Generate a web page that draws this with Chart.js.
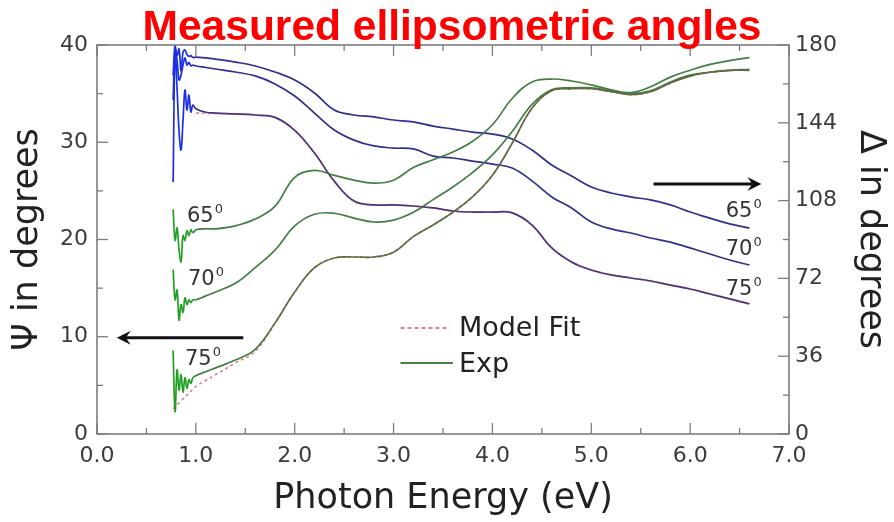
<!DOCTYPE html>
<html>
<head>
<meta charset="utf-8">
<script src="https://cdn.jsdelivr.net/npm/chart.js@4.4.0/dist/chart.umd.min.js"></script>
<style>
  html, body { margin: 0; padding: 0; background: #fff; }
  canvas { display: block; }
</style>
</head>
<body>
<canvas id="chartAngles" width="894" height="522"></canvas>
<script>
// ===== DATOS =====
const energy = [0.77, 0.79, 0.81, 0.83, 0.85, 0.87, 0.89, 0.91, 0.93, 0.95, 0.97,
    1.0, 1.1, 1.2, 1.4, 1.6, 1.8, 2.0, 2.2, 2.4, 2.6, 2.8, 3.0, 3.2, 3.4, 3.6, 3.8,
    4.0, 4.2, 4.4, 4.6, 4.8, 5.0, 5.2, 5.4, 5.6, 5.8, 6.0, 6.2, 6.4, 6.6];

// Psi (left axis), measured
const psi65 = [23.1, 19.9, 21.2, 18.9, 17.7, 20.4, 19.9, 20.9, 20.4, 21.0, 20.7,
    21.0, 21.1, 21.1, 21.4, 22.1, 23.4, 26.4, 27.1, 26.6, 26.1, 25.8, 26.1, 27.4, 28.2, 29.0, 30.1,
    31.8, 34.5, 36.2, 36.5, 36.3, 35.9, 35.4, 35.1, 35.7, 36.7, 37.4, 38.0, 38.4, 38.7];
const psi70 = [16.9, 13.8, 14.8, 11.7, 13.3, 12.5, 14.0, 13.3, 13.8, 13.5, 13.8,
    13.8, 14.2, 14.6, 15.5, 17.1, 18.9, 21.4, 22.6, 22.7, 22.2, 21.8, 22.0, 22.8, 24.1, 25.4, 26.9,
    28.7, 31.1, 33.9, 35.4, 35.6, 35.6, 35.3, 35.0, 35.3, 36.2, 36.9, 37.2, 37.4, 37.5];
const psi75 = [8.6, 2.3, 6.6, 4.5, 6.1, 4.3, 5.8, 4.7, 5.6, 5.2, 5.8,
    6.0, 6.4, 6.8, 7.6, 8.7, 11.4, 14.6, 17.1, 18.1, 18.2, 18.2, 18.7, 20.3, 21.5, 22.8, 24.4,
    26.6, 29.9, 33.5, 35.3, 35.5, 35.5, 35.2, 34.9, 35.2, 36.1, 36.8, 37.2, 37.4, 37.4];
const psi75Fit = [2.6, 2.8, 3.0, 3.2, 3.4, 3.6, 3.8, 4.0, 4.2, 4.4, 4.6,
    4.9, 5.5, 6.1, 7.3, 8.5, 11.4, 14.6, 17.1, 18.1, 18.2, 18.2, 18.7, 20.3, 21.5, 22.8, 24.4,
    26.6, 29.9, 33.5, 35.3, 35.5, 35.5, 35.2, 34.9, 35.2, 36.1, 36.8, 37.2, 37.4, 37.4];

// Delta (right axis), measured
const delta65 = [166.0, 180.0, 175.1, 178.2, 168.0, 176.6, 177.7, 175.6, 174.7, 175.1, 174.2,
    174.4, 174.0, 173.5, 172.1, 170.3, 167.5, 163.8, 157.8, 149.9, 147.6, 146.7, 145.3, 144.4, 142.5, 141.1, 139.7,
    138.8, 136.5, 131.4, 124.5, 119.4, 114.3, 111.5, 109.7, 108.3, 106.0, 102.7, 99.9, 97.2, 95.3];
const delta70 = [154.5, 177.7, 173.0, 163.8, 166.0, 170.7, 174.0, 170.7, 172.0, 170.3, 170.7,
    170.3, 169.6, 168.9, 167.5, 165.7, 162.0, 156.4, 148.5, 140.7, 136.0, 133.3, 132.3, 131.9, 128.6, 127.7, 126.3,
    124.9, 123.1, 117.1, 109.7, 104.6, 98.1, 94.9, 93.0, 90.7, 88.8, 86.1, 83.3, 80.5, 78.2];
const delta75 = [116.6, 177.7, 160.0, 140.0, 131.4, 145.0, 159.2, 149.9, 156.9, 149.0, 152.2,
    150.5, 148.9, 148.5, 148.1, 147.6, 146.5, 140.5, 130.0, 117.0, 107.8, 106.0, 106.0, 105.5, 104.6, 103.2, 102.7,
    102.7, 102.3, 96.7, 86.1, 79.6, 75.9, 73.6, 72.2, 70.8, 68.9, 67.1, 64.8, 62.5, 60.2];
// fit only from 1.0 eV on (hidden under the noisy start)
const delta75Fit = [null, null, null, null, null, null, null, null, null, null, null,
    148.5, 148.4, 148.3, 148.0, 147.5, 146.5, 140.5, 130.0, 117.0, 107.8, 106.0, 106.0, 105.5, 104.6, 103.2, 102.7,
    102.7, 102.3, 96.7, 86.1, 79.6, 75.9, 73.6, 72.2, 70.8, 68.9, 67.1, 64.8, 62.5, 60.2];

// Ticks
const energyTicks = [0, 1, 2, 3, 4, 5, 6, 7];
const psiTicks = [0, 10, 20, 30, 40];
const deltaTicks = [0, 36, 72, 108, 144, 180];
const angleNames = ['65', '70', '75'];

// ===== ESTILOS =====
const FONT = '"DejaVu Sans", "Liberation Sans", Arial, sans-serif';
const GREEN = '#437f43', GREEN_NOISY = '#25a025';
const BLUE = '#30308e', BLUE_NOISY = '#1d2fe6';
const FIT = 'rgba(185, 50, 60, 0.6)';

const toPoints = vals => energy.map((e, i) => ({ x: e, y: vals[i] }));
const noisyStart = (normal, bright) => ({
    borderColor: c => c.p1.parsed.x <= 0.97 ? bright : normal
});

function expSet(label, vals, axis, color, bright) {
    return { label, data: toPoints(vals), yAxisID: axis, borderColor: color,
             borderWidth: 1.7, segment: noisyStart(color, bright) };
}
function fitSet(label, vals, axis) {
    return { label, data: toPoints(vals), yAxisID: axis, borderColor: FIT,
             borderWidth: 1.6, borderDash: [3, 3] };
}

// ===== PLUGINS =====
// box + inward ticks (major and half-step minor) on all four sides
const frameTicks = {
    id: 'frameTicks',
    afterDatasetsDraw(chart) {
        const { ctx, chartArea: a, scales: { x, y, y2 } } = chart;
        ctx.save();
        ctx.strokeStyle = '#7c7c7c';
        ctx.lineWidth = 1.6;
        ctx.strokeRect(a.left, a.top, a.right - a.left, a.bottom - a.top);
        ctx.lineWidth = 1.3;
        const seg = (x1, y1, x2, y2_) => { ctx.beginPath(); ctx.moveTo(x1, y1); ctx.lineTo(x2, y2_); ctx.stroke(); };
        const withMinor = t => t.flatMap((v, i) => i < t.length - 1 ? [[v, 11], [(v + t[i + 1]) / 2, 6]] : [[v, 11]]);
        withMinor(energyTicks).forEach(([v, len]) => {
            const px = x.getPixelForValue(v);
            seg(px, a.bottom, px, a.bottom - len);
            seg(px, a.top, px, a.top + len);
        });
        withMinor(psiTicks).forEach(([v, len]) => {
            const py = y.getPixelForValue(v);
            seg(a.left, py, a.left + len, py);
        });
        withMinor(deltaTicks).forEach(([v, len]) => {
            const py = y2.getPixelForValue(v);
            seg(a.right, py, a.right - len, py);
        });
        ctx.restore();
    }
};

function arrow(ctx, x1, y1, x2, y2) {
    const dir = Math.sign(x2 - x1);
    ctx.beginPath();
    ctx.moveTo(x1, y1);
    ctx.lineTo(x2 - dir * 8, y2);
    ctx.stroke();
    ctx.beginPath();
    ctx.moveTo(x2, y2);
    ctx.lineTo(x2 - dir * 14, y2 - 7);
    ctx.lineTo(x2 - dir * 9, y2);
    ctx.lineTo(x2 - dir * 14, y2 + 7);
    ctx.closePath();
    ctx.fill();
}

function angleLabel(ctx, name, px, py) {
    ctx.font = '21px ' + FONT;
    ctx.fillText(name, px, py);
    const w = ctx.measureText(name).width;
    ctx.font = '13px ' + FONT;
    ctx.fillText('0', px + w + 1, py - 9);
}

// title, arrows, curve labels and legend
const annotations = {
    id: 'annotations',
    afterDraw(chart) {
        const { ctx, scales: { x, y, y2 } } = chart;
        ctx.save();
        ctx.fillStyle = '#ff0000';
        ctx.font = 'bold 42.5px "Liberation Sans", Arial, sans-serif';
        ctx.textAlign = 'center';
        ctx.textBaseline = 'alphabetic';
        ctx.fillText('Measured ellipsometric angles', 452, 40);

        // axis arrows
        ctx.strokeStyle = '#111';
        ctx.fillStyle = '#111';
        ctx.lineWidth = 3;
        arrow(ctx, x.getPixelForValue(1.48), y.getPixelForValue(9.9), x.getPixelForValue(0.2), y.getPixelForValue(9.9));
        arrow(ctx, x.getPixelForValue(5.63), y2.getPixelForValue(115.7), x.getPixelForValue(6.72), y2.getPixelForValue(115.7));

        // angle labels
        ctx.fillStyle = '#333';
        ctx.textAlign = 'left';
        const psiLabelAt = [[0.91, 21.8], [0.92, 15.3], [0.89, 7.1]];
        const deltaLabelAt = [[6.36, 100.4], [6.36, 82.8], [6.36, 64.3]];
        angleNames.forEach((n, i) => {
            angleLabel(ctx, n, x.getPixelForValue(psiLabelAt[i][0]), y.getPixelForValue(psiLabelAt[i][1]));
            angleLabel(ctx, n, x.getPixelForValue(deltaLabelAt[i][0]), y2.getPixelForValue(deltaLabelAt[i][1]));
        });

        // legend
        const lx = x.getPixelForValue(3.07), lx2 = x.getPixelForValue(3.57);
        const fitY = y.getPixelForValue(10.9), expY = y.getPixelForValue(7.3);
        ctx.lineWidth = 1.8;
        ctx.strokeStyle = FIT;
        ctx.setLineDash([4, 3]);
        ctx.beginPath(); ctx.moveTo(lx, fitY); ctx.lineTo(lx2, fitY); ctx.stroke();
        ctx.setLineDash([]);
        ctx.strokeStyle = GREEN;
        ctx.beginPath(); ctx.moveTo(lx, expY); ctx.lineTo(lx2 + 3, expY); ctx.stroke();
        ctx.fillStyle = '#222';
        ctx.font = '27px ' + FONT;
        ctx.textBaseline = 'middle';
        ctx.fillText('Model Fit', lx2 + 9, fitY + 1);
        ctx.fillText('Exp', lx2 + 9, expY + 2);
        ctx.restore();
    }
};

// ===== CHART =====
const tickFont = { family: FONT, size: 22 };
const titleFont = { family: FONT, size: 35 };

new Chart(document.getElementById('chartAngles').getContext('2d'), {
    type: 'line',
    data: {
        datasets: [
            fitSet('Model Fit 75', psi75Fit, 'y'),
            fitSet('Model Fit 75 Δ', delta75Fit, 'y2'),
            expSet('Ψ 65', psi65, 'y', GREEN, GREEN_NOISY),
            expSet('Ψ 70', psi70, 'y', GREEN, GREEN_NOISY),
            expSet('Ψ 75', psi75, 'y', GREEN, GREEN_NOISY),
            expSet('Δ 65', delta65, 'y2', BLUE, BLUE_NOISY),
            expSet('Δ 70', delta70, 'y2', BLUE, BLUE_NOISY),
            expSet('Δ 75', delta75, 'y2', BLUE, BLUE_NOISY)
        ]
    },
    options: {
        responsive: false,
        animation: false,
        layout: { padding: { top: 45, left: 0, right: 0, bottom: 0 } },
        elements: {
            point: { radius: 0 },
            line: { tension: 0.4, fill: false }
        },
        plugins: { legend: { display: false }, tooltip: { enabled: false } },
        scales: {
            x: {
                type: 'linear', position: 'bottom', min: 0, max: 7,
                grid: { display: false, drawTicks: false }, border: { display: false },
                afterBuildTicks: s => { s.ticks = energyTicks.map(v => ({ value: v })); },
                afterFit: s => { s.height = 88; },
                ticks: { font: tickFont, color: '#3c3c3c', padding: 9, maxRotation: 0, autoSkip: false,
                         callback: v => v.toFixed(1) },
                title: { display: true, text: 'Photon Energy (eV)', font: titleFont, color: '#222',
                         padding: { top: 0, bottom: 2 } }
            },
            y: {
                type: 'linear', position: 'left', min: 0, max: 40,
                grid: { display: false, drawTicks: false }, border: { display: false },
                afterBuildTicks: s => { s.ticks = psiTicks.map(v => ({ value: v })); },
                afterFit: s => { s.width = 97; },
                ticks: { font: tickFont, color: '#3c3c3c', padding: 9 },
                title: { display: true, text: 'Ψ in degrees', font: titleFont, color: '#222',
                         padding: { top: 7, bottom: 0 } }
            },
            y2: {
                type: 'linear', position: 'right', min: 0, max: 180,
                grid: { display: false, drawTicks: false }, border: { display: false },
                afterBuildTicks: s => { s.ticks = deltaTicks.map(v => ({ value: v })); },
                afterFit: s => { s.width = 105; },
                ticks: { font: tickFont, color: '#3c3c3c', padding: 6 },
                title: { display: true, text: 'Δ in degrees', font: titleFont, color: '#222',
                         padding: { top: 3, bottom: 0 } }
            }
        }
    },
    plugins: [frameTicks, annotations]
});
</script>
</body>
</html>
